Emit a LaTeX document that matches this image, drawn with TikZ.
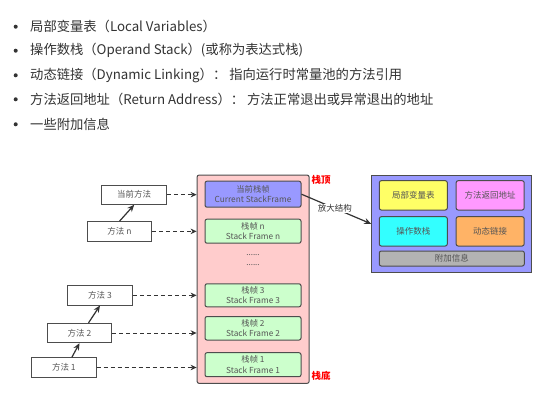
\documentclass[tikz,border=0pt]{standalone}
\usepackage{fontspec}
\setmainfont{Noto Sans CJK SC}
\usetikzlibrary{arrows.meta,calc}
\definecolor{txt}{HTML}{333333}
\definecolor{boxtxt}{HTML}{555555}
\definecolor{edge}{HTML}{4D4D4D}
\definecolor{pinkf}{HTML}{FFCCCC}
\definecolor{bluef}{HTML}{9999FF}
\definecolor{greenf}{HTML}{CCFFCC}
\definecolor{yellowf}{HTML}{FFFF66}
\definecolor{magf}{HTML}{FF99FF}
\definecolor{cyanf}{HTML}{33FFFF}
\definecolor{orangef}{HTML}{FFB366}
\definecolor{grayf}{HTML}{B3B3B3}
\tikzset{
  item/.style={anchor=west,text=txt,font=\fontsize{13.3}{15}\selectfont,inner sep=0pt},
  bul/.style={circle,fill=txt,inner sep=0pt,minimum size=4pt},
  methodbox/.style={draw=edge,line width=1pt,fill=white,minimum width=64.5pt,minimum height=19.3pt,inner sep=0pt,text=boxtxt,font=\fontsize{8.5}{10}\selectfont},
  framebox/.style={draw=edge,line width=1pt,rounded corners=2pt,minimum width=96pt,minimum height=24pt,inner sep=0pt,align=center,text=boxtxt,font=\fontsize{8.3}{10.5}\selectfont},
  partbox/.style={draw=edge,line width=1pt,rounded corners=2pt,minimum width=68pt,minimum height=29.3pt,inner sep=0pt,text=boxtxt,font=\fontsize{8.5}{10}\selectfont},
  redlabel/.style={anchor=west,text=red,inner sep=0pt,font=\bfseries\fontsize{9.5}{10}\selectfont},
  dasharrow/.style={draw=txt,line width=1pt,dash pattern=on 4pt off 3pt,-{Stealth[length=6pt,width=5.5pt]}},
  solidarrow/.style={draw=txt,line width=1.2pt,-{Stealth[length=7pt,width=6pt]}},
  dots/.style={text=boxtxt,font=\fontsize{8}{8}\selectfont,inner sep=0pt},
}
\begin{document}
\begin{tikzpicture}[x=1pt,y=-1pt]
\useasboundingbox[fill=white] (0,0) rectangle (557,410);
% bullet list
\node[bul] (b1) at (15.7,26.7) {};
\node[bul] (b2) at (15.7,50.7) {};
\node[bul] (b3) at (15.7,75.3) {};
\node[bul] (b4) at (15.7,99.3) {};
\node[bul] (b5) at (15.7,124.3) {};
\node[item] (t1) at (30,26.7) {局部变量表（Local Variables）};
\node[item] (t2) at (30,50.7) {操作数栈（Operand Stack）(或称为表达式栈)};
\node[item] (t3) at (30,75.3) {动态链接（Dynamic Linking）： 指向运行时常量池的方法引用};
\node[item] (t4) at (30,99.3) {方法返回地址（Return Address）： 方法正常退出或异常退出的地址};
\node[item] (t5) at (30,124.3) {一些附加信息};
% stack
\node[draw=edge,line width=1pt,rounded corners=2pt,fill=pinkf,minimum width=112pt,minimum height=208.3pt,inner sep=0pt] (stack) at (253.1,279.2) {};
\node[framebox,fill=bluef,minimum height=26pt] (cur) at (253,194.2) {当前栈帧\\Current StackFrame};
\node[framebox,fill=greenf] (fn) at (253,231.2) {栈帧 n\\Stack Frame n};
\node[dots] (d1) at (253,255.5) {......};
\node[dots] (d2) at (253,265.5) {......};
\node[framebox,fill=greenf,minimum height=23pt] (f3) at (253,295.3) {栈帧 3\\Stack Frame 3};
\node[framebox,fill=greenf,minimum height=23.5pt] (f2) at (253,328.3) {栈帧 2\\Stack Frame 2};
\node[framebox,fill=greenf] (f1) at (253,364.7) {栈帧 1\\Stack Frame 1};
\node[redlabel] (top) at (311.5,179.5) {栈顶};
\node[redlabel] (bot) at (311.5,375.5) {栈底};
% methods
\node[methodbox] (cm) at (134.2,194.65) {当前方法};
\node[methodbox] (mn) at (119.5,231.35) {方法 n};
\node[methodbox] (m3) at (100,295.35) {方法 3};
\node[methodbox] (m2) at (79.5,333) {方法 2};
\node[methodbox] (m1) at (63.85,367.5) {方法 1};
\draw[dasharrow] (cm.east) -- (cm.east -| stack.west);
\draw[dasharrow] (mn.east) -- (mn.east -| stack.west);
\draw[dasharrow] (m3.east) -- (m3.east -| stack.west);
\draw[dasharrow] (m2.east) -- (m2.east -| stack.west);
\draw[dasharrow] (m1.east) -- (m1.east -| stack.west);
\draw[solidarrow] (mn.north) -- (cm.south);
\draw[solidarrow] ([xshift=8pt]m1.north) -- (m2.south);
\draw[solidarrow] ([xshift=9pt]m2.north) -- (m3.south);
% enlarged structure
\node[draw=edge,line width=1pt,fill=bluef,minimum width=160pt,minimum height=97.7pt,inner sep=0pt] (big) at (451.7,223.85) {};
\node[partbox,fill=yellowf] (lv) at (413.3,195.35) {局部变量表};
\node[partbox,fill=magf] (ra) at (490.15,195.35) {方法返回地址};
\node[partbox,fill=cyanf] (os) at (413.3,231.35) {操作数栈};
\node[partbox,fill=orangef] (dl) at (490.15,231.35) {动态链接};
\node[partbox,fill=grayf,minimum width=145pt,minimum height=15pt] (ai) at (451.8,258.5) {附加信息};
\draw[solidarrow] (cur.east) -- node[pos=0.48,fill=white,inner sep=1pt,text=txt,font=\fontsize{8.5}{10}\selectfont] (lbl) {放大结构} (big.west);
\end{tikzpicture}
\end{document}
